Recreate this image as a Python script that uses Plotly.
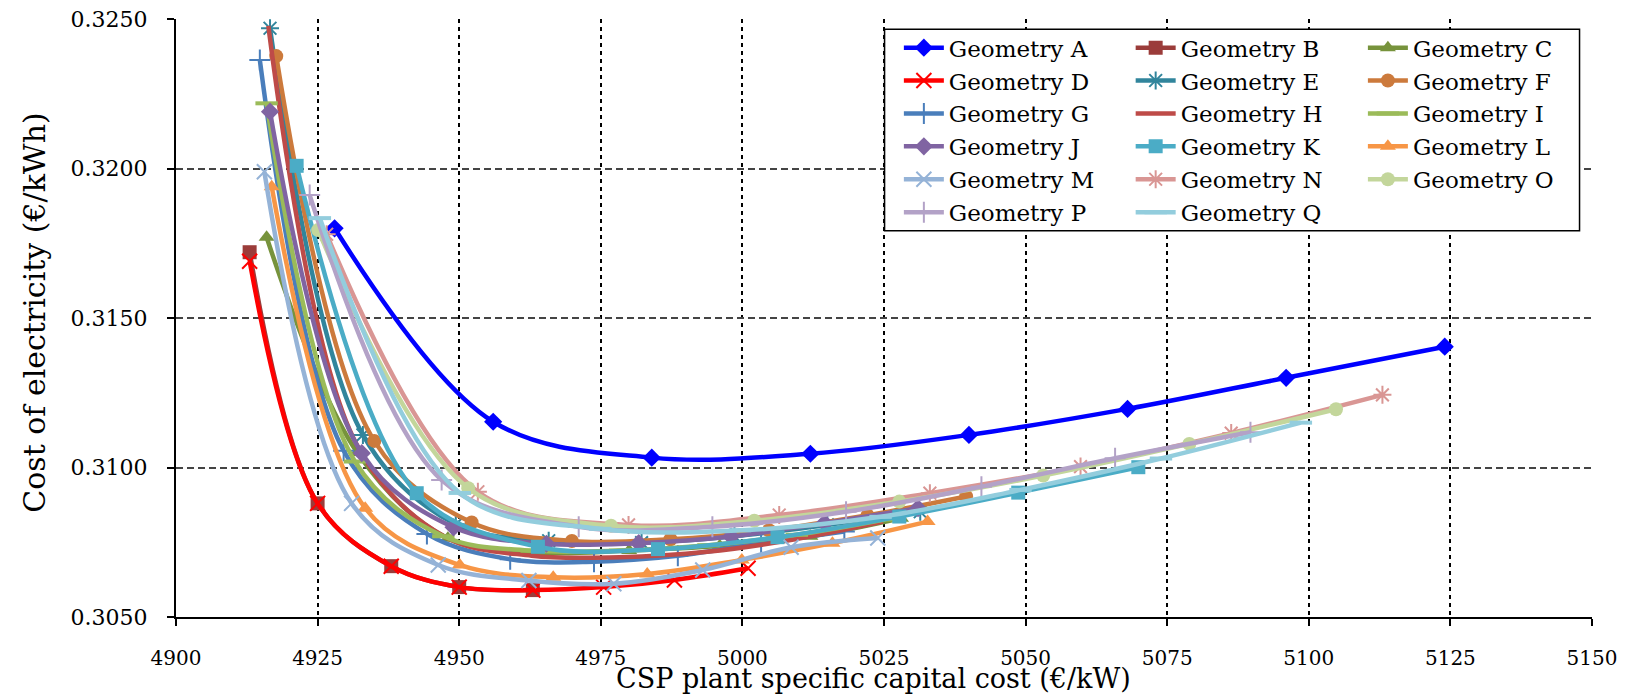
import plotly.graph_objects as go

# ---------------- data ----------------
names = ["Geometry A", "Geometry B", "Geometry C", "Geometry D", "Geometry E", "Geometry F",
         "Geometry G", "Geometry H", "Geometry I", "Geometry J", "Geometry K", "Geometry L",
         "Geometry M", "Geometry N", "Geometry O", "Geometry P", "Geometry Q"]

x_A = [4928, 4956, 4984, 5012, 5040, 5068, 5096, 5124]
y_A = [0.3180, 0.31153, 0.31033, 0.31046, 0.31109, 0.31196, 0.31300, 0.31404]

x_B = [4913, 4925, 4938, 4950, 4963]
y_B = [0.3172, 0.3088, 0.3067, 0.3060, 0.3059]

x_C = [4916, 4932, 4948, 4964, 4980, 4996, 5012, 5028]
y_C = [0.3177, 0.3105, 0.30763, 0.30715, 0.30722, 0.30738, 0.30770, 0.30830]

x_D = [4913, 4925, 4938, 4950, 4963, 4975.5, 4988, 5001]
y_D = [0.3169, 0.3088, 0.3067, 0.3060, 0.3059, 0.3060, 0.30624, 0.30663]

x_E = [4916.6, 4933, 4949.4, 4965.8, 4982.2, 4998.6, 5015, 5031.4]
y_E = [0.32469, 0.31109, 0.3081, 0.30755, 0.30749, 0.30770, 0.30808, 0.30852]

x_F = [4917.7, 4935, 4952.2, 4969.9, 4987.3, 5004.7, 5022.1, 5039.5]
y_F = [0.32376, 0.31089, 0.30816, 0.30754, 0.30760, 0.30790, 0.30840, 0.30903]

x_G = [4914.8, 4929.6, 4944.3, 4959, 4973.8, 4988.6, 5003.3, 5018]
y_G = [0.32363, 0.31056, 0.30778, 0.30693, 0.30685, 0.30705, 0.30747, 0.30786]

x_H = [4916.3, 4931.8, 4947.3, 4962.8, 4978.3, 4993.8, 5009.3, 5024.8]
y_H = [0.32477, 0.3108, 0.3077, 0.30705, 0.30700, 0.30718, 0.30760, 0.30819]

x_I = [4916, 4931.6, 4947.2, 4962.8, 4978.4, 4994, 5009.6, 5025.2]
y_I = [0.32218, 0.3102, 0.3077, 0.30722, 0.30722, 0.3074, 0.30775, 0.30826]

x_J = [4916.6, 4932.8, 4949, 4965.4, 4981.7, 4998, 5014.5, 5031]
y_J = [0.3219, 0.31048, 0.30800, 0.30745, 0.30747, 0.30769, 0.30814, 0.30864]

x_K = [4921.3, 4942.5, 4963.9, 4985.1, 5006.2, 5027.7, 5048.7, 5069.9]
y_K = [0.32009, 0.30914, 0.30735, 0.30727, 0.30767, 0.30836, 0.30916, 0.31001]

x_L = [4916.9, 4933.4, 4950.1, 4966.6, 4983.2, 4999.9, 5015.9, 5032.7]
y_L = [0.31939, 0.30864, 0.30674, 0.30633, 0.30644, 0.30691, 0.30747, 0.30819]

x_M = [4915.6, 4931, 4946.3, 4962.3, 4977.3, 4993, 5008.6, 5023.9]
y_M = [0.31989, 0.30880, 0.30674, 0.30622, 0.30611, 0.30657, 0.30733, 0.30764]

x_N = [4926.6, 4953.3, 4979.9, 5006.5, 5033.1, 5059.7, 5086.3, 5113]
y_N = [0.3178, 0.30919, 0.30808, 0.30841, 0.30914, 0.31003, 0.31115, 0.31243]

x_O = [4925.1, 4951.6, 4976.8, 5002.1, 5027.7, 5053.1, 5078.9, 5104.8]
y_O = [0.31794, 0.30931, 0.30805, 0.30822, 0.30886, 0.30973, 0.31079, 0.31195]

x_P = [4923.6, 4946.9, 4971.1, 4994.7, 5018.3, 5042.2, 5065.8, 5089.7]
y_P = [0.31911, 0.30958, 0.30802, 0.30802, 0.30852, 0.30936, 0.31031, 0.31118]

x_Q = [4925.4, 4950.1, 4974.9, 4999.6, 5024.4, 5049.1, 5073.9, 5098.6]
y_Q = [0.31834, 0.30915, 0.30795, 0.30790, 0.30835, 0.30925, 0.31030, 0.31150]

x_ticks = [4900, 4925, 4950, 4975, 5000, 5025, 5050, 5075, 5100, 5125, 5150]
y_ticks = [0.3050, 0.3100, 0.3150, 0.3200, 0.3250]

xs = [x_A, x_B, x_C, x_D, x_E, x_F, x_G, x_H, x_I, x_J, x_K, x_L, x_M, x_N, x_O, x_P, x_Q]
ys = [y_A, y_B, y_C, y_D, y_E, y_F, y_G, y_H, y_I, y_J, y_K, y_L, y_M, y_N, y_O, y_P, y_Q]

# ---------------- styles ----------------
colors = ["#0000FF", "#9B3C3A", "#77933C", "#FF0000", "#31859C", "#CC7A3C",
          "#4A7EBB", "#BE4B48", "#9BBB59", "#8064A2", "#4BACC6", "#F79646",
          "#95B3D7", "#D99694", "#C3D69B", "#B3A2C7", "#93CDDD"]
symbols = ["diamond", "square", "triangle-up", "x-thin-open", "asterisk-open", "circle",
           "cross-thin-open", None, "line-ew-open", "diamond", "square", "triangle-up",
           "x-thin-open", "asterisk-open", "circle", "cross-thin-open", "line-ew-open"]
msizes = [14, 14, 14, 15, 15, 14, 15, 0, 16, 14, 14, 14, 15, 15, 14, 15, 16]
open_syms = {"x-thin-open", "asterisk-open", "cross-thin-open", "line-ew-open"}
legend_of = ["legend", "legend2", "legend3"]

FONT = "DejaVu Serif, Liberation Serif, serif"

fig = go.Figure()
for i, (nm, xx, yy) in enumerate(zip(names, xs, ys)):
    sym = symbols[i]
    if sym is None:
        mode = "lines"
        marker = dict()
    else:
        mode = "lines+markers"
        if sym in open_syms:
            marker = dict(symbol=sym, size=msizes[i], color=colors[i],
                          line=dict(color=colors[i], width=2 if sym != "line-ew-open" else 4))
        else:
            marker = dict(symbol=sym, size=msizes[i], color=colors[i], line=dict(width=0))
    fig.add_trace(go.Scatter(
        x=xx, y=yy, name=nm, mode=mode,
        line=dict(color=colors[i], width=4.5, shape="spline", smoothing=1.0),
        marker=marker,
        legend=legend_of[i % 3],
    ))

leg_common = dict(font=dict(family=FONT, size=23, color="black"),
                  bgcolor="rgba(0,0,0,0)", borderwidth=0,
                  orientation="v", yanchor="top", xanchor="left",
                  itemwidth=40, tracegroupgap=0)

fig.update_layout(
    width=1630, height=696,
    margin=dict(l=176, r=38, t=19, b=79, autoexpand=False),
    paper_bgcolor="white", plot_bgcolor="white",
    showlegend=True,
    legend=dict(x=0.5105, y=0.988, **leg_common),
    legend2=dict(x=0.6742, y=0.988, **leg_common),
    legend3=dict(x=0.8382, y=0.988, **leg_common),
    xaxis=dict(
        range=[4900, 5150], tickvals=x_ticks, ticktext=[str(v) for v in x_ticks],
        showgrid=True, gridcolor="black", gridwidth=1.5, griddash="4px,4px",
        showline=True, linecolor="black", linewidth=2,
        ticks="outside", ticklen=7, tickcolor="black", tickwidth=1.5,
        tickfont=dict(family=FONT, size=20, color="black"),
        ticklabelstandoff=15, zeroline=False,
    ),
    yaxis=dict(
        range=[0.3050, 0.3250], tickvals=y_ticks, ticktext=["%.4f" % v for v in y_ticks],
        showgrid=True, gridcolor="#444444", gridwidth=1.5, griddash="7px,4px",
        showline=True, linecolor="black", linewidth=2,
        ticks="outside", ticklen=7, tickcolor="black", tickwidth=1.5,
        tickfont=dict(family=FONT, size=22, color="black"),
        ticklabelstandoff=15, zeroline=False,
    ),
    shapes=[dict(type="rect", xref="paper", yref="paper",
                 x0=0.5004, x1=0.9912, y0=0.646, y1=0.9828,
                 line=dict(color="black", width=1.5), fillcolor="white", layer="above")],
    annotations=[
        dict(text="Cost of electricity (€/kWh)", xref="paper", yref="paper",
             x=-0.0999, y=0.508, xanchor="center", yanchor="middle", textangle=-90,
             showarrow=False, font=dict(family=FONT, size=30, color="black")),
        dict(text="CSP plant specific capital cost (€/kW)", xref="paper", yref="paper",
             x=0.4925, y=-0.1318, xanchor="center", yanchor="bottom",
             showarrow=False, font=dict(family=FONT, size=27, color="black")),
    ],
)

fig.write_html("out.html")
